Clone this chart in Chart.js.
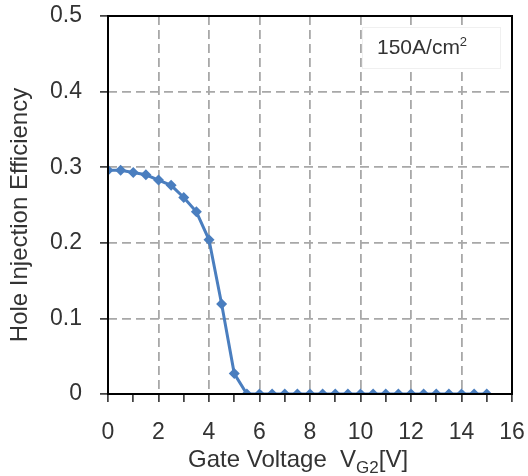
<!DOCTYPE html>
<html>
<head>
<meta charset="utf-8">
<script src="https://cdn.jsdelivr.net/npm/chart.js@4"></script>
<style>
html,body{margin:0;padding:0;background:#fff;}
#wrap{width:528px;height:476px;position:relative;}
</style>
</head>
<body>
<div id="wrap"><canvas id="c" width="528" height="476"></canvas></div>
<script>
const gateVoltage = [0,0.5,1,1.5,2,2.5,3,3.5,4,4.5,5,5.5,6,6.5,7,7.5,8,8.5,9,9.5,10,10.5,11,11.5,12,12.5,13,13.5,14,14.5,15];
const holeInjectionEfficiency = [0.296,0.296,0.293,0.290,0.283,0.276,0.260,0.241,0.204,0.119,0.027,0,0,0,0,0,0,0,0,0,0,0,0,0,0,0,0,0,0,0,0];
const xTickLabels = [0,2,4,6,8,10,12,14,16];
const yTickLabels = [0,0.1,0.2,0.3,0.4,0.5];
const xTitleMain = 'Gate Voltage  V';
const xTitleSub = 'G2';
const xTitleEnd = '[V]';
const yTitle = 'Hole Injection Efficiency';
const annotationText = '150A/cm';
const annotationSup = '2';

const FONT = '"Liberation Sans", Arial, sans-serif';

const points = gateVoltage.map((x,i)=>({x:x, y:holeInjectionEfficiency[i]}));

const decor = {
  id:'decor',
  beforeDatasetsDraw(chart){
    const ctx = chart.ctx;
    ctx.save();
    ctx.fillStyle = '#fff';
    ctx.fillRect(362, 27, 138, 41);
    ctx.strokeStyle = '#f0f0f0';
    ctx.lineWidth = 1;
    ctx.strokeRect(362.5, 27.5, 138, 41);
    ctx.fillStyle = '#333';
    ctx.font = '21px ' + FONT;
    ctx.textBaseline = 'alphabetic';
    ctx.fillText(annotationText, 377, 54);
    const w = ctx.measureText(annotationText).width;
    ctx.font = '13px ' + FONT;
    ctx.fillText(annotationSup, 377 + w, 46);
    ctx.restore();
  },
  afterDraw(chart){
    const ctx = chart.ctx, a = chart.chartArea;
    ctx.save();
    ctx.strokeStyle = '#000';
    ctx.lineWidth = 2;
    ctx.strokeRect(a.left, a.top, a.right - a.left, a.bottom - a.top);
    ctx.fillStyle = '#333';
    ctx.font = '24px ' + FONT;
    ctx.textAlign = 'center';
    ctx.textBaseline = 'alphabetic';
    ctx.translate(27, 215);
    ctx.rotate(-Math.PI/2);
    ctx.fillText(yTitle, 0, 0);
    ctx.restore();
    ctx.save();
    ctx.fillStyle = '#333';
    ctx.textBaseline = 'alphabetic';
    ctx.font = '24px ' + FONT;
    let x = 188;
    ctx.fillText(xTitleMain, x, 467);
    x += ctx.measureText(xTitleMain).width;
    ctx.font = '17px ' + FONT;
    ctx.fillText(xTitleSub, x, 473);
    x += ctx.measureText(xTitleSub).width;
    ctx.font = '24px ' + FONT;
    ctx.fillText(xTitleEnd, x, 467);
    ctx.restore();
  }
};

new Chart(document.getElementById('c'), {
  type:'line',
  data:{
    datasets:[{
      data: points,
      borderColor:'#4a7ebf',
      backgroundColor:'#4a7ebf',
      borderWidth:3,
      pointStyle:'rectRot',
      pointRadius:5.5,
      pointHoverRadius:5.5,
      pointBorderWidth:0,
      tension:0
    }]
  },
  options:{
    responsive:false,
    animation:false,
    events:[],
    layout:{padding:{left:0,right:16,top:16,bottom:0}},
    plugins:{legend:{display:false},tooltip:{enabled:false}},
    scales:{
      x:{
        type:'linear', min:0, max:16,
        afterFit(s){ s.height = 82; s.paddingLeft = 0; s.paddingRight = 0; },
        afterBuildTicks(s){ s.ticks = Array.from({length:17},(_, i)=>({value:i})); },
        ticks:{
          autoSkip:false, maxRotation:0,
          color:'#333', font:{family:FONT,size:23}, padding:17,
          callback:(v)=> xTickLabels.includes(v) ? String(v) : ''
        },
        border:{display:false, dash:[9,5]},
        grid:{
          color:(c)=>{const v=c.tick&&c.tick.value; return (v%2===0 && v>0 && v<16)?'#a8a8a8':'rgba(0,0,0,0)';},
          lineWidth:1.8,
          tickColor:'#222', tickWidth:1.5, tickLength:8
        }
      },
      y:{
        type:'linear', min:0, max:0.5,
        afterFit(s){ s.width = 108; s.paddingTop = 0; s.paddingBottom = 0; },
        afterBuildTicks(s){ s.ticks = yTickLabels.map(v=>({value:v})); },
        ticks:{
          color:'#333', font:{family:FONT,size:23}, padding:18,
          callback:(v)=> String(Math.round(v*10)/10)
        },
        border:{display:false, dash:[9,5]},
        grid:{
          color:(c)=>{const v=c.tick&&c.tick.value; return (v>0.001 && v<0.499)?'#a8a8a8':'rgba(0,0,0,0)';},
          lineWidth:1.8,
          tickColor:'#222', tickWidth:1.5, tickLength:8
        }
      }
    }
  },
  plugins:[decor]
});
</script>
</body>
</html>
